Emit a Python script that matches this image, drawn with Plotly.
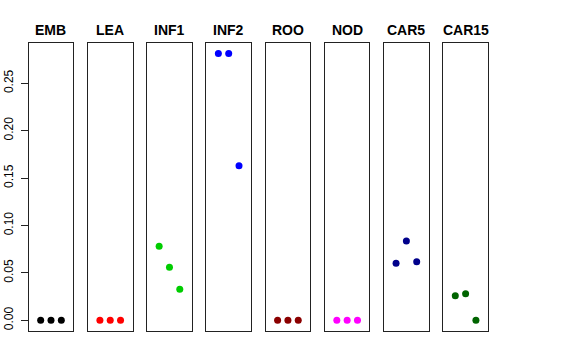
import plotly.graph_objects as go

panels = ["EMB", "LEA", "INF1", "INF2", "ROO", "NOD", "CAR5", "CAR15"]
colors = ["#000000", "#FF0000", "#00CD00", "#0000FF", "#8B0000", "#FF00FF", "#00008B", "#006400"]
positions = [1, 2, 3]
EMB = [0.0, 0.0, 0.0]
LEA = [0.0, 0.0, 0.0]
INF1 = [0.0781, 0.0559, 0.0327]
INF2 = [0.2815, 0.2815, 0.1631]
ROO = [0.0, 0.0, 0.0]
NOD = [0.0, 0.0, 0.0]
CAR5 = [0.0601, 0.0837, 0.0618]
CAR15 = [0.0260, 0.0281, 0.0]
series = [EMB, LEA, INF1, INF2, ROO, NOD, CAR5, CAR15]
y_ticks = [0.0, 0.05, 0.10, 0.15, 0.20, 0.25]
y_ticktext = ["0.00", "0.05", "0.10", "0.15", "0.20", "0.25"]

W, H = 576, 360
ymax = max(max(s) for s in series)
ymin = 0.0
ext = 0.04 * (ymax - ymin)
yrange = [ymin - ext, ymax + ext]
xrange = [-0.16, 4.16]

fig = go.Figure()
layout = dict(
    width=W, height=H, margin=dict(l=0, r=0, t=0, b=0, autoexpand=False),
    paper_bgcolor="white", plot_bgcolor="white", showlegend=False,
    font=dict(family="Liberation Sans, Arial, sans-serif", size=12, color="black"),
)
left0, pitch, pw = 28.7, 59.23, 44.6
ybot, ytop = 331.0, 42.7
annotations = []
for i, (name, col, vals) in enumerate(zip(panels, colors, series)):
    sfx = "" if i == 0 else str(i + 1)
    fig.add_trace(go.Scatter(
        x=positions, y=vals, mode="markers",
        marker=dict(color=col, size=7, line=dict(width=0)),
        xaxis="x" + sfx, yaxis="y" + sfx, hoverinfo="skip"))
    x0 = (left0 + pitch * i) / W
    x1 = (left0 + pitch * i + pw) / W
    layout["xaxis" + sfx] = dict(
        domain=[x0, x1], range=xrange, anchor="y" + sfx, automargin=False,
        showgrid=False, zeroline=False, showticklabels=False, ticks="",
        showline=True, mirror=True, linecolor="#222222", linewidth=1, fixedrange=True)
    ax = dict(
        domain=[1 - ybot / H, 1 - ytop / H], range=yrange, anchor="x" + sfx,
        automargin=False, showgrid=False, zeroline=False,
        showline=True, mirror=True, linecolor="#222222", linewidth=1, fixedrange=True)
    if i == 0:
        ax.update(tickvals=y_ticks, ticktext=y_ticktext, ticks="outside", ticklen=7,
                  tickcolor="#222222", tickwidth=1, tickangle=-90,
                  tickfont=dict(size=12, color="black"), ticklabelstandoff=3)
    else:
        ax.update(showticklabels=False, ticks="")
    layout["yaxis" + sfx] = ax
    annotations.append(dict(
        text="<b>%s</b>" % name, x=(x0 + x1) / 2, y=1 - 29.5 / H,
        xref="paper", yref="paper", showarrow=False, xanchor="center", yanchor="middle",
        font=dict(size=14, color="black")))
layout["annotations"] = annotations
fig.update_layout(**layout)
fig.write_html("out.html", config={"displayModeBar": False, "staticPlot": True},
               post_script="document.body.style.margin='0';document.body.style.overflow='hidden';")
